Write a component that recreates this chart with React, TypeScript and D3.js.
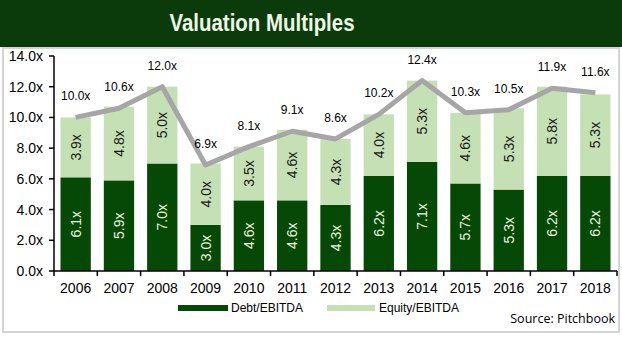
import React from "react";
import * as d3 from "d3";

const years = ["2006","2007","2008","2009","2010","2011","2012","2013","2014","2015","2016","2017","2018"];
const debt = [6.1,5.9,7.0,3.0,4.6,4.6,4.3,6.2,7.1,5.7,5.3,6.2,6.2];
const equity = [3.9,4.8,5.0,4.0,3.5,4.6,4.3,4.0,5.3,4.6,5.3,5.8,5.3];
const total = [10.0,10.6,12.0,6.9,8.1,9.1,8.6,10.2,12.4,10.3,10.5,11.9,11.6];
const yTicks = [0,2,4,6,8,10,12,14];
const seriesNames = ["Debt/EBITDA","Equity/EBITDA"];

const W = 622, H = 337;
const DARK = "#064906";
const LIGHT = "#c5e0b4";
const TITLE_BG = "#0b3b0b";
const LINE = "#a6a6a6";
const FONT = "'Liberation Sans', Arial, sans-serif";

export default function App() {
  const x = d3.scaleBand<string>().domain(years).range([54, 617]).paddingInner(0.3).paddingOuter(0.15);
  const y = d3.scaleLinear().domain([0, 14]).range([271, 56]);
  const bw = x.bandwidth();
  const step = x.step();
  const cx = (i: number) => (x(years[i]) as number) + bw / 2;
  const line = d3.line<number>().x((_, i) => cx(i)).y(d => y(d));

  return (
    <div style={{ position: "absolute", left: 0, top: 0 }}>
      <svg width={W} height={H} style={{ display: "block", background: "#fff" }}>
        <rect x={0} y={0} width={W} height={47} fill={TITLE_BG} />
        <text x={262} y={31} textAnchor="middle" fill="#eef7e8" fontFamily={FONT} fontWeight="bold" fontSize={24} textLength={185} lengthAdjust="spacingAndGlyphs">Valuation Multiples</text>
        <rect x={3} y={48} width={616} height={284} fill="none" stroke="#d4d4d4" strokeWidth={2} />

        {/* y axis */}
        <line x1={54} x2={54} y1={y(14)} y2={y(0)} stroke="#000" strokeWidth={1.5} />
        {yTicks.map(t => (
          <g key={t}>
            <line x1={49} x2={54} y1={y(t)} y2={y(t)} stroke="#000" strokeWidth={1.5} />
            <text x={43} y={y(t) + 5} textAnchor="end" fontFamily={FONT} fontSize={14} fill="#000">{t.toFixed(1) + "x"}</text>
          </g>
        ))}

        {/* bars */}
        {years.map((yr, i) => {
          const x0 = x(yr) as number;
          const d0 = y(0), d1 = y(debt[i]), e1 = y(debt[i] + equity[i]);
          return (
            <g key={yr}>
              <rect x={x0} y={d1} width={bw} height={d0 - d1} fill={DARK} />
              <rect x={x0} y={e1} width={bw} height={d1 - e1} fill={LIGHT} />
              <text transform={`translate(${cx(i) + 5},${(d0 + d1) / 2}) rotate(-90)`} textAnchor="middle" fontFamily={FONT} fontSize={14} fill="#e6f2dc">{debt[i].toFixed(1) + "x"}</text>
              <text transform={`translate(${cx(i) + 5},${(d1 + e1) / 2}) rotate(-90)`} textAnchor="middle" fontFamily={FONT} fontSize={14} fill="#1a1a1a">{equity[i].toFixed(1) + "x"}</text>
            </g>
          );
        })}

        {/* x axis */}
        <line x1={54} x2={617} y1={y(0)} y2={y(0)} stroke="#000" strokeWidth={1.5} />
        {d3.range(years.length + 1).map(k => (
          <line key={k} x1={54 + k * step} x2={54 + k * step} y1={y(0)} y2={y(0) + 5} stroke="#000" strokeWidth={1.5} />
        ))}
        {years.map((yr, i) => (
          <text key={yr} x={cx(i)} y={293} textAnchor="middle" fontFamily={FONT} fontSize={14} fill="#000">{yr}</text>
        ))}

        {/* total line */}
        <path d={line(total) || ""} fill="none" stroke={LINE} strokeWidth={5} strokeLinejoin="round" />
        {total.map((t, i) => (
          <text key={i} x={cx(i)} y={y(t) - 17} textAnchor="middle" fontFamily={FONT} fontSize={12} fill="#000">{t.toFixed(1) + "x"}</text>
        ))}

        {/* legend */}
        <rect x={178} y={305} width={50} height={6} fill={DARK} />
        <text x={231} y={312} fontFamily={FONT} fontSize={12} fill="#000">{seriesNames[0]}</text>
        <rect x={327} y={305} width={48} height={6} fill={LIGHT} />
        <text x={379} y={312} fontFamily={FONT} fontSize={12} fill="#000">{seriesNames[1]}</text>

        <text x={615} y={323} textAnchor="end" fontFamily="'Open Sans', 'Noto Sans', sans-serif" fontSize={12.5} fill="#000">Source: Pitchbook</text>
      </svg>
    </div>
  );
}
